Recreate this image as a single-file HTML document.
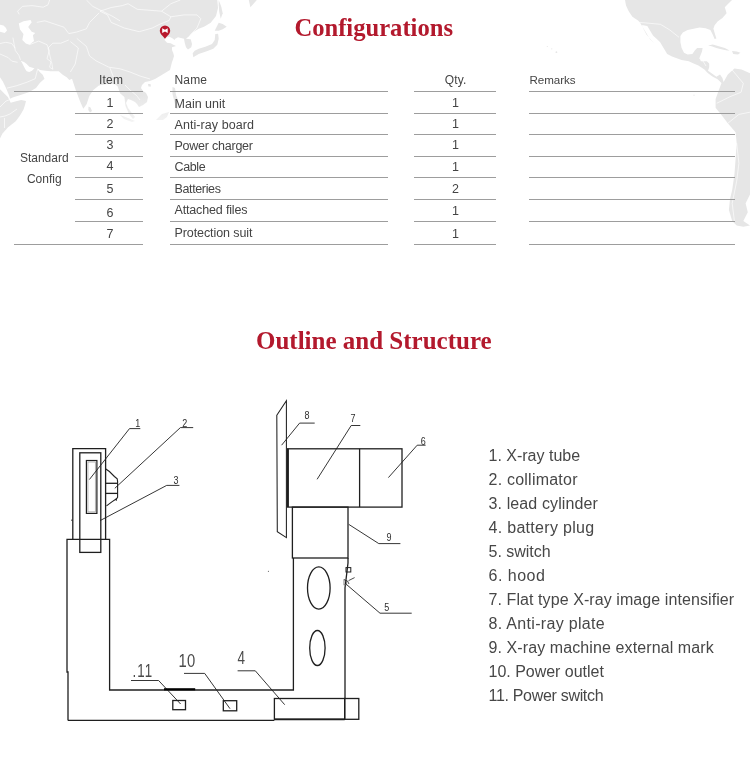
<!DOCTYPE html>
<html><head><meta charset="utf-8"><title>Configurations</title>
<style>
html,body{margin:0;padding:0;background:#fff;}
body{width:750px;height:766px;overflow:hidden;font-family:"Liberation Sans",sans-serif;}
svg{display:block;will-change:transform;}
</style></head>
<body>
<svg width="750" height="766" viewBox="0 0 750 766">
<rect width="750" height="766" fill="#fff"/>
<g fill="#e6e6e6"><polygon points="0.0,0.0 217.3,0.0 218.0,8.0 216.0,16.0 210.7,22.7 204.0,26.7 198.7,28.7 193.3,32.0 189.3,36.0 186.0,38.7 190.7,39.3 192.0,44.0 191.3,47.3 188.0,49.6 186.0,47.3 184.7,42.7 184.0,38.7 178.0,37.3 175.3,38.7 174.7,40.0 172.0,38.0 169.3,36.7 165.5,37.8 164.5,40.0 167.0,42.7 170.7,43.3 173.3,44.7 176.0,46.0 172.0,47.3 172.0,50.0 173.3,53.3 174.0,56.0 172.8,60.0 172.0,62.0 170.0,70.0 165.0,73.0 160.0,76.0 155.0,79.0 150.0,81.0 145.0,82.0 142.0,85.0 141.0,88.0 143.0,91.0 146.0,93.0 148.0,97.0 147.0,102.0 143.0,105.0 139.0,107.0 137.0,104.0 135.0,102.0 131.0,100.0 128.0,99.0 126.0,103.0 128.0,108.0 131.0,112.0 135.0,117.0 133.0,119.0 129.0,114.0 125.5,106.0 124.4,97.0 120.0,93.3 117.7,86.6 115.5,84.4 111.0,83.8 104.4,84.4 98.9,85.5 93.3,90.0 89.3,96.0 86.7,104.0 83.3,108.7 80.0,101.3 76.0,90.7 73.3,82.7 72.0,78.7 69.3,80.0 66.7,77.3 62.7,74.7 58.7,71.3 50.7,71.3 45.3,70.7 40.0,70.0 38.0,68.7 33.3,68.0 29.3,66.7 26.7,64.0 24.0,62.0 20.7,60.7 22.0,62.7 24.0,66.7 25.3,69.3 26.7,71.3 29.3,72.0 32.0,70.7 34.7,68.0 36.5,67.8 38.5,70.5 40.0,72.3 42.7,74.7 44.5,78.7 40.0,82.7 36.0,88.0 29.3,92.0 21.3,94.7 13.3,97.3 10.0,98.7 9.3,96.0 6.0,88.0 2.7,81.3 0.0,77.3"/><polygon points="0.0,89.3 4.0,93.3 8.0,97.3 9.3,100.0 10.7,102.7 16.0,101.3 21.3,100.0 26.0,101.0 25.0,105.0 23.5,109.6 20.0,115.5 15.7,121.3 7.8,127.6 2.3,133.8 0.0,138.5"/><polygon points="88.5,106.5 90.5,107.5 92.0,111.0 90.0,112.5 88.3,110.0"/><polygon points="218.7,0.0 221.3,6.7 222.7,13.3 220.7,18.7 219.3,12.0 218.7,5.3"/><polygon points="214.7,30.7 218.7,22.7 222.7,24.0 226.7,26.7 222.7,29.3 218.7,30.7"/><polygon points="215.3,34.0 214.7,40.0 212.0,44.0 205.3,46.7 198.7,48.7 194.7,50.7 192.7,53.3 193.3,57.3 198.7,54.0 206.7,51.3 213.3,48.7 217.3,44.7 218.7,38.7 218.1,33.7"/><polygon points="248.8,0.0 256.8,0.0 250.4,7.2"/><polygon points="172.5,87.0 175.0,88.0 176.0,95.0 178.0,100.0 179.0,108.0 176.0,109.0 174.0,100.0 172.5,94.0"/><polygon points="148.0,84.0 150.5,84.0 151.0,86.5 148.5,86.5"/><polygon points="120.0,115.0 128.0,118.0 135.0,121.0 132.0,122.0 124.0,119.0"/><polygon points="156.0,120.0 162.0,114.0 169.0,112.0 167.0,117.0 163.0,120.0"/><polygon points="625.0,0.0 626.0,5.6 628.7,11.2 632.4,16.8 638.0,20.5 640.0,22.4 641.0,24.3 645.5,31.7 650.0,39.2 654.8,43.9 652.0,41.0 646.4,34.5 643.0,28.0 642.0,25.0 647.3,26.1 653.0,35.5 660.0,42.0 663.6,48.0 667.2,54.0 672.0,56.4 681.6,60.0 688.8,61.2 693.6,63.6 698.4,65.4 704.4,69.6 708.0,73.2 712.8,76.8 717.6,79.2 721.5,83.0 718.9,90.0 715.6,98.9 715.6,107.8 721.1,114.4 727.8,123.3 735.6,132.2 736.7,143.3 735.6,158.9 734.4,174.4 732.2,190.0 730.0,198.9 728.9,210.0 732.2,221.1 736.7,225.6 743.3,226.7 750.0,225.6 743.3,221.1 747.8,212.2 745.6,203.3 750.0,194.4 750.0,73.2 741.6,69.6 734.4,68.4 727.8,74.4 723.6,82.0 722.4,78.0 720.0,74.4 716.4,76.8 711.6,73.2 708.0,70.8 709.2,67.2 709.2,63.6 706.8,61.2 700.8,61.2 699.6,57.6 702.0,51.6 702.6,48.0 697.2,48.0 694.8,50.4 692.4,54.0 687.6,54.6 684.0,52.8 681.6,48.0 680.4,42.0 680.4,36.0 682.8,32.4 687.6,30.0 693.6,28.8 699.6,27.6 705.6,28.2 710.4,30.0 712.8,34.8 714.6,39.0 716.4,38.4 715.2,34.8 713.4,28.8 714.6,25.2 717.6,21.6 722.4,18.0 726.6,13.2 724.8,7.2 727.2,4.8 732.0,0.0"/><polygon points="708.0,45.6 712.8,44.4 718.8,46.2 724.8,48.0 729.6,50.4 727.2,50.4 721.2,49.2 716.4,48.0 711.6,46.2"/><polygon points="732.0,51.0 736.8,51.6 740.4,52.8 738.0,54.6 733.2,54.0"/></g>
<g fill="#fff"><polygon points="18.8,23.5 23.5,21.2 30.5,20.0 31.7,22.3 28.2,27.0 31.7,31.7 35.2,32.9 32.9,35.3 34.0,41.1 29.4,44.7 25.8,43.5 22.3,40.0 23.5,34.1 20.0,29.4"/><polygon points="0.0,24.7 3.5,25.5 6.0,28.0 7.0,30.6 4.7,32.9 0.0,31.7"/><circle cx="547.3" cy="46.5" r="0.6" fill="#e6e6e6"/><circle cx="551.8" cy="48.8" r="0.6" fill="#e6e6e6"/><circle cx="556.4" cy="52.2" r="0.9" fill="#e6e6e6"/><circle cx="694" cy="95.2" r="0.6" fill="#e6e6e6"/></g>
<g fill="none" stroke="#fff" stroke-width="0.7" stroke-opacity="0.9"><polyline points="19.2,14.4 17.6,11.2 22.4,6.4 32.0,5.6 43.2,7.2 48.0,4.8 49.6,0.0"/><polyline points="86.4,0.0 92.8,6.4 102.4,11.2 112.0,16.0 120.0,20.8"/><polyline points="36.8,22.4 44.8,20.8 54.4,24.0 64.0,27.2 68.8,33.6 76.8,32.0 86.4,28.8 89.6,22.4 99.2,12.8"/><polyline points="76.8,38.4 86.4,46.4 89.6,56.0 96.0,60.8 108.8,67.2 120.0,68.8 130.0,72.0 140.0,76.0 150.0,79.0"/><polyline points="48.0,48.0 52.8,43.2 60.8,43.2 68.8,40.0"/><polyline points="48.0,48.0 51.2,60.8 49.6,67.2 52.8,69.3"/><polyline points="70.4,41.6 78.4,48.0 75.2,64.0 70.4,72.0"/><polyline points="100.0,11.2 111.2,7.5 122.4,5.6 128.0,3.7 137.3,9.3 161.6,11.2 170.9,16.8 169.1,20.5 159.7,24.3 152.3,28.0 139.2,31.7 124.3,28.0 111.2,22.4 107.5,14.9 100.0,11.2"/><polyline points="161.6,11.2 170.9,3.7 180.3,0.0"/><polyline points="170.9,16.8 184.0,14.9 197.0,14.9 200.8,18.7 197.0,28.0 189.6,35.5"/><polyline points="0.0,43.5 5.9,42.3 11.7,43.5 15.3,48.2"/><polyline points="0.0,54.0 8.2,57.6 11.7,61.1 17.6,62.3"/><polyline points="12.9,37.6 15.3,50.5 18.8,55.2 20.5,59.9"/><polyline points="29.4,44.7 38.7,41.1 47.0,44.7 49.3,50.5 47.0,58.7 51.7,62.3 52.8,69.3"/><polyline points="7.0,88.1 16.4,85.8 27.0,82.2 35.2,78.7 37.6,69.3"/><polyline points="0.0,117.0 5.0,116.0 10.0,114.0 17.0,109.0"/><polyline points="0.0,107.0 6.0,101.0 9.0,100.0"/><polyline points="4.5,118.0 4.5,128.0"/><polyline points="110.0,68.0 113.0,76.0 117.0,84.0"/><polyline points="125.0,85.0 130.0,90.0 137.0,96.0 140.0,100.0"/><polyline points="639.9,22.4 660.4,24.3 669.7,29.9 679.0,37.3"/><polyline points="716.7,103.3 730.0,96.7 741.1,92.2"/><polyline points="732.2,70.0 743.3,83.3 741.1,92.2"/><polyline points="727.8,123.3 738.9,114.4 750.0,112.2"/><polyline points="736.7,143.3 738.9,163.3 736.7,181.1 732.2,203.3 734.4,221.1"/><polyline points="699.0,58.0 703.0,61.0 706.0,66.0"/></g>
<defs><linearGradient id="fade" x1="0" y1="95" x2="0" y2="125" gradientUnits="userSpaceOnUse"><stop offset="0" stop-color="#fff" stop-opacity="0"/><stop offset="1" stop-color="#fff" stop-opacity="0.6"/></linearGradient></defs>
<rect x="100" y="95" width="100" height="30" fill="url(#fade)"/>
<g>
<path d="M165,38.8 C163,36.2 159.8,33.8 159.8,30.8 A5.2,5.2 0 0 1 170.2,30.8 C170.2,33.8 167,36.2 165,38.8 Z" fill="#b8192d"/>
<polygon points="162.2,28.3 165,29.8 167.7,28.3 167.7,33 165,31.4 162.2,33" fill="#fff"/>
</g>
<text x="294.4" y="35.5" font-family="Liberation Serif, serif" font-weight="bold" font-size="24.6" textLength="158.6" fill="#b3192d">Configurations</text>
<text x="256" y="349" font-family="Liberation Serif, serif" font-weight="bold" font-size="25" fill="#b3192d">Outline and Structure</text>
<g stroke="#9d9d9d" stroke-width="1"><line x1="14" y1="91.5" x2="143" y2="91.5"/><line x1="75" y1="113.5" x2="143" y2="113.5"/><line x1="75" y1="134.5" x2="143" y2="134.5"/><line x1="75" y1="156.5" x2="143" y2="156.5"/><line x1="75" y1="177.5" x2="143" y2="177.5"/><line x1="75" y1="199.5" x2="143" y2="199.5"/><line x1="75" y1="221.5" x2="143" y2="221.5"/><line x1="14" y1="244.5" x2="143" y2="244.5"/><line x1="170" y1="91.5" x2="388" y2="91.5"/><line x1="414" y1="91.5" x2="496" y2="91.5"/><line x1="529" y1="91.5" x2="735" y2="91.5"/><line x1="170" y1="113.5" x2="388" y2="113.5"/><line x1="414" y1="113.5" x2="496" y2="113.5"/><line x1="529" y1="113.5" x2="735" y2="113.5"/><line x1="170" y1="134.5" x2="388" y2="134.5"/><line x1="414" y1="134.5" x2="496" y2="134.5"/><line x1="529" y1="134.5" x2="735" y2="134.5"/><line x1="170" y1="156.5" x2="388" y2="156.5"/><line x1="414" y1="156.5" x2="496" y2="156.5"/><line x1="529" y1="156.5" x2="735" y2="156.5"/><line x1="170" y1="177.5" x2="388" y2="177.5"/><line x1="414" y1="177.5" x2="496" y2="177.5"/><line x1="529" y1="177.5" x2="735" y2="177.5"/><line x1="170" y1="199.5" x2="388" y2="199.5"/><line x1="414" y1="199.5" x2="496" y2="199.5"/><line x1="529" y1="199.5" x2="735" y2="199.5"/><line x1="170" y1="221.5" x2="388" y2="221.5"/><line x1="414" y1="221.5" x2="496" y2="221.5"/><line x1="529" y1="221.5" x2="735" y2="221.5"/><line x1="170" y1="244.5" x2="388" y2="244.5"/><line x1="414" y1="244.5" x2="496" y2="244.5"/><line x1="529" y1="244.5" x2="735" y2="244.5"/></g>
<g fill="#444444" font-family="Liberation Sans, sans-serif" font-size="12.5"><text x="111" y="84" text-anchor="middle" font-size="12" textLength="23.8">Item</text><text x="174.5" y="84" font-size="12" textLength="32.5">Name</text><text x="455.5" y="84" text-anchor="middle" font-size="12" textLength="21.7">Qty.</text><text x="529.5" y="84" font-size="11.6" textLength="46">Remarks</text><text x="44.3" y="161.8" text-anchor="middle" font-size="12">Standard</text><text x="44.3" y="182.6" text-anchor="middle" font-size="12">Config</text><text x="110" y="107" text-anchor="middle">1</text><text x="174.5" y="108" textLength="50.8">Main unit</text><text x="455.5" y="106.5" text-anchor="middle">1</text><text x="110" y="128" text-anchor="middle">2</text><text x="174.5" y="129" textLength="79.5">Anti-ray board</text><text x="455.5" y="128" text-anchor="middle">1</text><text x="110" y="149" text-anchor="middle">3</text><text x="174.5" y="150" textLength="78.5">Power charger</text><text x="455.5" y="149.2" text-anchor="middle">1</text><text x="110" y="170" text-anchor="middle">4</text><text x="174.5" y="171" textLength="31.1">Cable</text><text x="455.5" y="171" text-anchor="middle">1</text><text x="110" y="192.5" text-anchor="middle">5</text><text x="174.5" y="192.5" textLength="46.4">Batteries</text><text x="455.5" y="193.3" text-anchor="middle">2</text><text x="110" y="216.6" text-anchor="middle">6</text><text x="174.5" y="213.6" textLength="73">Attached files</text><text x="455.5" y="215.3" text-anchor="middle">1</text><text x="110" y="237.6" text-anchor="middle">7</text><text x="174.5" y="236.6" textLength="77.9">Protection suit</text><text x="455.5" y="238.2" text-anchor="middle">1</text></g>
<g fill="#474747" font-family="Liberation Sans, sans-serif" font-size="16"><text x="488.5" y="460.5" textLength="91.6">1. X-ray tube</text><text x="488.5" y="484.5" textLength="89.0">2. collimator</text><text x="488.5" y="508.5" textLength="109.39999999999999">3. lead cylinder</text><text x="488.5" y="532.5" textLength="105.6">4. battery plug</text><text x="488.5" y="556.5" textLength="62.099999999999994">5. switch</text><text x="488.5" y="580.5" textLength="56.4">6. hood</text><text x="488.5" y="604.5" textLength="245.60000000000002">7. Flat type X-ray image intensifier</text><text x="488.5" y="628.5" textLength="116.2">8. Anti-ray plate</text><text x="488.5" y="652.5" textLength="225.20000000000002">9. X-ray machine external mark</text><text x="488.5" y="676.5" textLength="115.39999999999999">10. Power outlet</text><text x="488.5" y="700.5" textLength="115.1">11. Power switch</text></g>

<g fill="none" stroke="#1f1f1f" stroke-width="1.3">
<!-- tube outer -->
<polyline points="72.8,539.3 72.8,448.6 105.6,448.6 105.6,539.3"/>
<rect x="79.8" y="452.8" width="21" height="99.6"/>
<rect x="86.4" y="460.5" width="10.5" height="52.9" stroke-width="1.2"/>
<rect x="87.9" y="462" width="7.5" height="49.9" stroke-width="0.9" stroke="#aaa"/>
<line x1="71.8" y1="519.5" x2="71.8" y2="521" stroke-width="0.8"/>
<!-- collimator -->
<path d="M105.8,469 L109.4,471.5 L114.4,476.5 L117.2,478.7 L117.6,481.5 L117.6,497.3 L116.5,498.8 L112.2,501.6 L106.5,505.9" stroke-width="1.1"/>
<line x1="105.8" y1="483.3" x2="117.6" y2="483.3"/>
<line x1="105.8" y1="493.4" x2="117.6" y2="493.4"/>
<line x1="116.3" y1="498.5" x2="116.3" y2="500.8" stroke-width="1"/>
<!-- base column -->
<polyline points="68,720.5 68,672 67,672 67,539.3 109.6,539.3 109.6,690 293.4,690 293.4,558 "/>
<line x1="68" y1="720.3" x2="274.4" y2="720.3"/>
<!-- leaders 1,2,3 -->
<polyline points="89.4,479.5 129.5,428.6 140.3,428.6" stroke-width="0.9"/>
<polyline points="114.8,488.3 180.4,427.6 193.2,427.6" stroke-width="0.9"/>
<polyline points="100.1,520.6 166.7,485.4 179.4,485.4" stroke-width="0.9"/>
<!-- anti-ray plate -->
<polygon points="276.8,415.2 286.4,400.8 286.4,537.6 277.3,531.6" stroke-width="1.05"/>
<!-- intensifier and hood -->
<rect x="287.6" y="448.8" width="114.4" height="58.3"/>
<line x1="359.6" y1="448.8" x2="359.6" y2="507.1"/>
<line x1="288" y1="448.8" x2="288" y2="507.1" stroke-width="1.8"/>
<!-- lower box -->
<rect x="292.4" y="507.1" width="55.6" height="50.9"/>
<!-- tower right side -->
<polyline points="348,558 348,563 345,588 345,698.4"/>
<circle cx="268.4" cy="571.2" r="0.5" fill="#333" stroke="none"/>
<!-- ovals -->
<ellipse cx="318.8" cy="588" rx="11.3" ry="21.1"/>
<ellipse cx="317.4" cy="648" rx="7.7" ry="17.5"/>
<!-- switch -->
<rect x="346" y="567.6" width="4.8" height="4.4" stroke-width="1"/>
<rect x="344" y="579.6" width="2.6" height="5.2" stroke-width="0.9" stroke="#777"/>
<polyline points="344.5,580 347.5,581 349,584" stroke-width="0.8"/>
<line x1="348.6" y1="580.6" x2="354.6" y2="577.6" stroke-width="0.8"/>
<polyline points="346.4,584.4 380,613.2 411.7,613.2" stroke-width="0.9"/>
<!-- leaders 6,7,8,9 -->
<polyline points="281.6,445.2 299.6,423.1 314.7,423.1" stroke-width="0.9"/>
<polyline points="317.1,479.3 351.2,425.5 360.3,425.5" stroke-width="0.9"/>
<polyline points="388.4,477.6 417.2,445.2 425.6,445.2" stroke-width="0.9"/>
<polyline points="348.8,524.4 378.8,543.6 400.4,543.6" stroke-width="0.9"/>
<!-- battery plug -->
<rect x="274.4" y="698.5" width="70.3" height="20.8"/>
<line x1="274.4" y1="719.3" x2="344.7" y2="719.3" stroke-width="1.8"/>
<rect x="344.7" y="698.5" width="14.1" height="20.8"/>
<!-- small rects -->
<rect x="172.8" y="700.5" width="12.7" height="9.2"/>
<rect x="223.3" y="700.7" width="13.4" height="10.1"/>
<!-- leaders 11,10,4 -->
<polyline points="131,680.5 158.6,680.5 180.6,704" stroke-width="0.9"/>
<polyline points="184,673.4 204.7,673.4 230,708.7" stroke-width="0.9"/>
<polyline points="237.6,670.8 255.3,670.8 284.7,704.7" stroke-width="0.9"/>
<line x1="164" y1="689.3" x2="195.2" y2="689.3" stroke-width="2.2" stroke="#000"/>
</g>
<g fill="#4a4a4a" font-family="Liberation Sans, sans-serif">
<text x="135.2" y="427.4" font-size="12" fill="#2e2e2e" transform="translate(135.2,427.4) scale(0.75,0.95) translate(-135.2,-427.4)">1</text>
<text x="182.3" y="426.6" font-size="12" fill="#2e2e2e" transform="translate(182.3,426.6) scale(0.75,0.95) translate(-182.3,-426.6)">2</text>
<text x="173.5" y="484.4" font-size="12" fill="#2e2e2e" transform="translate(173.5,484.4) scale(0.75,0.95) translate(-173.5,-484.4)">3</text>
<text x="304.4" y="419.2" font-size="12" fill="#2e2e2e" transform="translate(304.4,419.2) scale(0.75,0.95) translate(-304.4,-419.2)">8</text>
<text x="350.5" y="422.4" font-size="12" fill="#2e2e2e" transform="translate(350.5,422.4) scale(0.75,0.95) translate(-350.5,-422.4)">7</text>
<text x="420.8" y="445.2" font-size="12" fill="#2e2e2e" transform="translate(420.8,445.2) scale(0.75,0.95) translate(-420.8,-445.2)">6</text>
<text x="386.5" y="541.2" font-size="12" fill="#2e2e2e" transform="translate(386.5,541.2) scale(0.75,0.95) translate(-386.5,-541.2)">9</text>
<text x="384.2" y="610.8" font-size="12" fill="#2e2e2e" transform="translate(384.2,610.8) scale(0.75,0.95) translate(-384.2,-610.8)">5</text>
<text x="132.5" y="677" font-size="18.5" letter-spacing="1.5" transform="translate(132.5,677) scale(0.72,1) translate(-132.5,-677)">.11</text>
<text x="178.5" y="667.3" font-size="19" letter-spacing="0.5" transform="translate(178.5,667.3) scale(0.78,1) translate(-178.5,-667.3)">10</text>
<text x="237.5" y="664.5" font-size="18" transform="translate(237.5,664.5) scale(0.75,1) translate(-237.5,-664.5)">4</text>
</g>

</svg>
</body></html>
